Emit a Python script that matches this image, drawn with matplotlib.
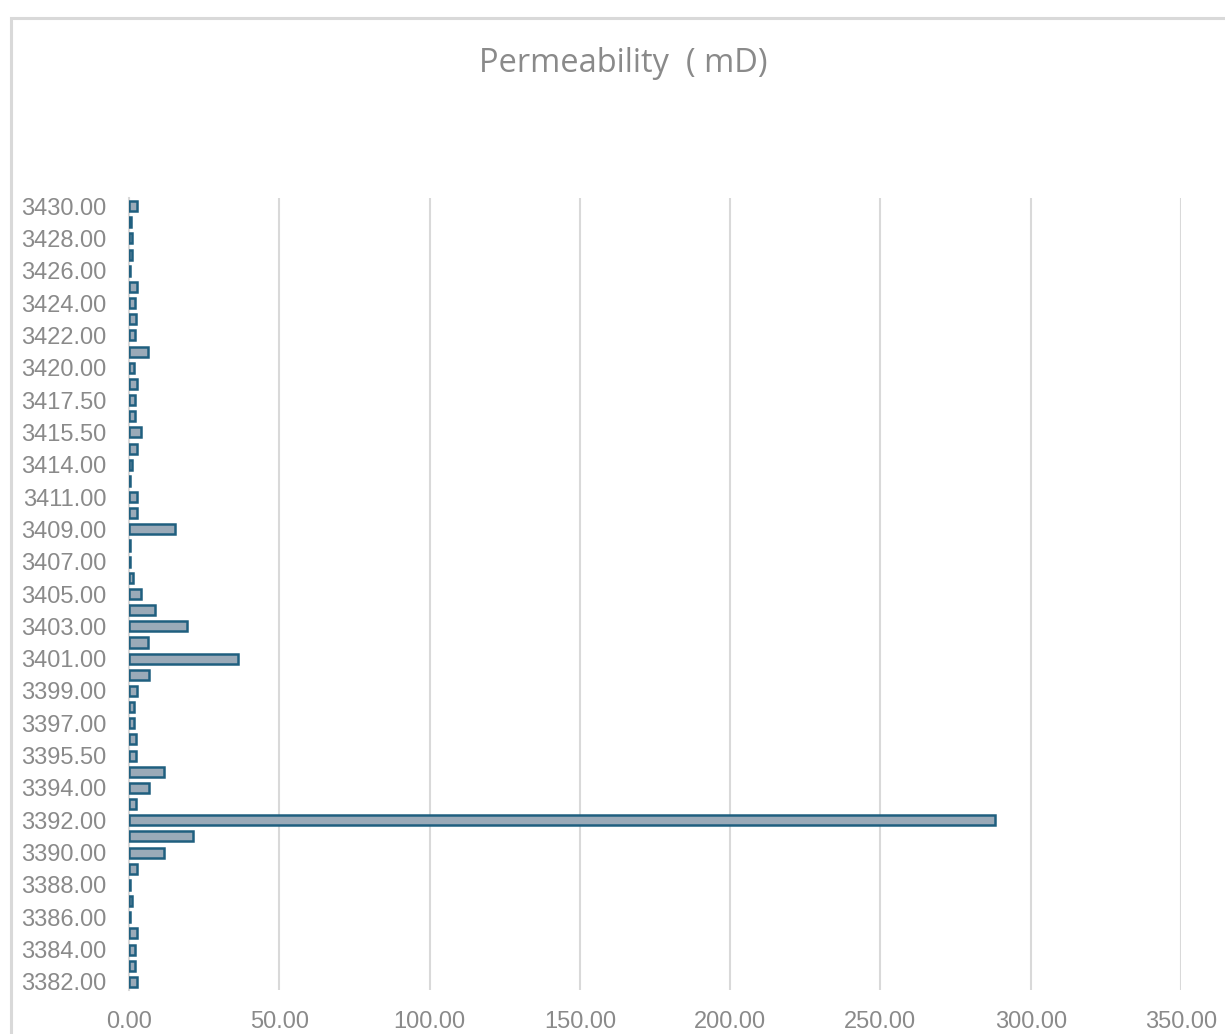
import matplotlib
matplotlib.use("Agg")
import matplotlib.pyplot as plt
from matplotlib.patches import Rectangle

# depth (m), listed bottom-to-top on the category axis
depths = [3382, 3383, 3384, 3385, 3386, 3387, 3388, 3389, 3390, 3391,
          3392, 3393, 3394, 3395, 3395.5, 3396, 3397, 3398, 3399, 3400,
          3401, 3402, 3403, 3404, 3405, 3406, 3407, 3408, 3409, 3410,
          3411, 3413, 3414, 3415, 3415.5, 3417, 3417.5, 3419, 3420, 3421,
          3422, 3423, 3424, 3425, 3426, 3427, 3428, 3429, 3430]

# permeability (mD) per depth, same order
perm = [2.5, 2.0, 2.0, 2.8, 0.3, 1.0, 0.4, 2.5, 11.5, 21.4,
        288.0, 2.3, 6.8, 11.5, 2.3, 2.3, 1.5, 1.5, 2.8, 6.8,
        36.4, 6.3, 19.4, 8.5, 4.1, 1.3, 0.4, 0.4, 15.3, 2.5,
        2.5, 0.4, 1.0, 2.5, 3.9, 2.0, 2.0, 2.7, 1.5, 6.3,
        1.9, 2.3, 2.0, 2.5, 0.3, 1.0, 1.0, 0.5, 2.5]

x_ticks = [0, 50, 100, 150, 200, 250, 300, 350]

FACE = "#9aaab8"
EDGE = "#1f5f7f"
GRID = "#d9d9d9"
TXT = "#8a8a8a"

W, H = 1225, 1034
fig = plt.figure(figsize=(W / 100, H / 100), dpi=100)

# chart frame (light grey outline running off the right/bottom)
fig.patches.append(Rectangle((11 / W, -0.1), 1.2, 1 - 18 / H + 0.1,
                             transform=fig.transFigure, fill=False,
                             edgecolor=GRID, linewidth=2.2))

ax = fig.add_axes([129 / W, 1 - 990 / H, (1181 - 129) / W, (990 - 198) / H])
pos = list(range(len(depths)))
ax.barh(pos, perm, height=0.62, color=FACE, edgecolor=EDGE, linewidth=1.8,
        zorder=3)

ax.set_xlim(0, 350)
ax.set_ylim(-0.5, len(depths) - 0.5)
ax.set_xticks(x_ticks)
ax.set_xticklabels([f"{v:.2f}" for v in x_ticks])
ax.set_yticks(pos[::2])
ax.set_yticklabels([f"{d:.2f}" for d in depths[::2]])

ax.grid(axis="x", color=GRID, linewidth=1.5, zorder=0)
for side in ("top", "right", "bottom"):
    ax.spines[side].set_visible(False)
ax.spines["left"].set_color(GRID)
ax.spines["left"].set_linewidth(1.5)
ax.spines["left"].set_zorder(2)

ax.tick_params(axis="both", length=0, colors=TXT, labelsize=17)
ax.tick_params(axis="y", pad=16)
ax.tick_params(axis="x", pad=15)
for lab in ax.get_xticklabels() + ax.get_yticklabels():
    lab.set_family("Liberation Sans")

fig.text(623 / W, 1 - 63 / H, "Permeability  ( mD)", ha="center", va="center",
         fontsize=23.5, color=TXT, family="Open Sans")

fig.savefig("out.png", dpi=100)
